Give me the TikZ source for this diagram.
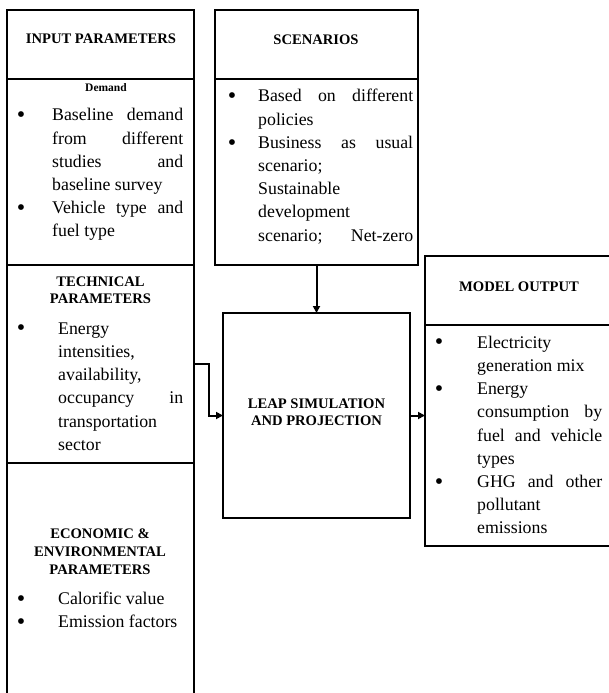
\documentclass[tikz,border=0pt]{standalone}
\usepackage{fontspec}
\setmainfont{Liberation Serif}
\usetikzlibrary{arrows.meta}
\newcommand{\bodyfont}{\fontsize{17.8}{23.2}\selectfont}
\newcommand{\headfont}{\fontsize{14.6}{17.5}\selectfont\bfseries}
\newcommand{\bul}[1]{\llap{\raisebox{-0.1em}{\scalebox{1.35}{\textbullet}}\hspace{#1}}}
\newcommand{\prep}{\tolerance=10000 \hbadness=10000 \noindent\rule{0pt}{17pt}}
\begin{document}
\begin{tikzpicture}[x=1pt,y=-1pt,
  box/.style={draw, line width=1.8pt, inner sep=0pt, outer sep=0pt, anchor=north west},
  arr/.style={line width=2pt, -{Triangle[length=7pt,width=7pt]}},
  body/.style={inner sep=0pt, anchor=north west, align=justify, font=\bodyfont},
  head/.style={inner sep=0pt, font=\headfont}]
\useasboundingbox (0,0) rectangle (609,693);
\clip (0,0) rectangle (609,693);
% boxes
\node[box, minimum width=187pt, minimum height=69pt]  (inh)  at (7,10) {};
\node[box, minimum width=187pt, minimum height=186pt] (dem)  at (7,79) {};
\node[box, minimum width=187pt, minimum height=198pt] (tech) at (7,265) {};
\node[box, minimum width=187pt, minimum height=257pt] (eco)  at (7,463) {};
\node[box, minimum width=203pt, minimum height=69pt]  (sch)  at (215,10) {};
\node[box, minimum width=203pt, minimum height=186pt] (scb)  at (215,79) {};
\node[box, minimum width=187pt, minimum height=205pt] (leap) at (223,313) {};
\node[box, minimum width=215pt, minimum height=69pt]  (moh)  at (425,256) {};
\node[box, minimum width=215pt, minimum height=221pt] (mob)  at (425,325) {};
% connectors
\draw[arr] (scb.south) -- (leap.north);
\draw[arr] (tech.east) -- ++(15,0) |- (leap.west);
\draw[arr] (leap.east) -- (leap.east -| mob.west);
% headers
\node[head, anchor=base] (tinh) at (101,44) {INPUT PARAMETERS};
\node[inner sep=0pt, anchor=base, font=\fontsize{11.5}{14}\selectfont\bfseries] (tdem) at (106,92) {Demand};
\node[head, anchor=base] (tsch) at (316,45) {SCENARIOS};
\node[head, anchor=north, align=center] (ttech) at (100.5,274) {\rule{0pt}{12pt}TECHNICAL\\PARAMETERS};
\node[head, anchor=north, align=center] (tleap) at (316.5,396) {\rule{0pt}{12pt}LEAP SIMULATION\\AND PROJECTION};
\node[head, anchor=base] (tmoh) at (519,291) {MODEL OUTPUT};
\node[head, anchor=north, align=center] (teco) at (100,526) {\rule{0pt}{12pt}ECONOMIC \&\\[0.5pt]ENVIRONMENTAL\\[0.5pt]PARAMETERS};
% bodies
\node[body, text width=131pt] (tdemb) at (52,103.7) {\prep\bul{27pt}Baseline demand\linebreak from different\linebreak studies and\linebreak baseline survey\newline\bul{27pt}Vehicle type and\linebreak fuel type};
\node[body, text width=155pt] (tscb) at (258,84.7) {\prep\bul{22pt}Based on different\linebreak policies\newline\bul{22pt}Business as usual\linebreak scenario;\newline Sustainable\newline development\newline scenario;\hfill Net-zero};
\node[body, text width=125pt] (ttechb) at (58,317) {\prep\bul{33pt}Energy\newline intensities,\newline availability,\newline occupancy in\linebreak transportation\newline sector};
\node[body, text width=125pt] (tmob) at (477,331) {\prep\bul{34pt}Electricity\newline generation mix\newline\bul{34pt}Energy\newline consumption by\linebreak fuel and vehicle\linebreak types\newline\bul{34pt}GHG and other\linebreak pollutant\newline emissions};
\node[body, text width=125pt] (tecob) at (58,587.5) {\prep\bul{33pt}Calorific value\newline\bul{33pt}Emission factors};
\end{tikzpicture}
\end{document}
